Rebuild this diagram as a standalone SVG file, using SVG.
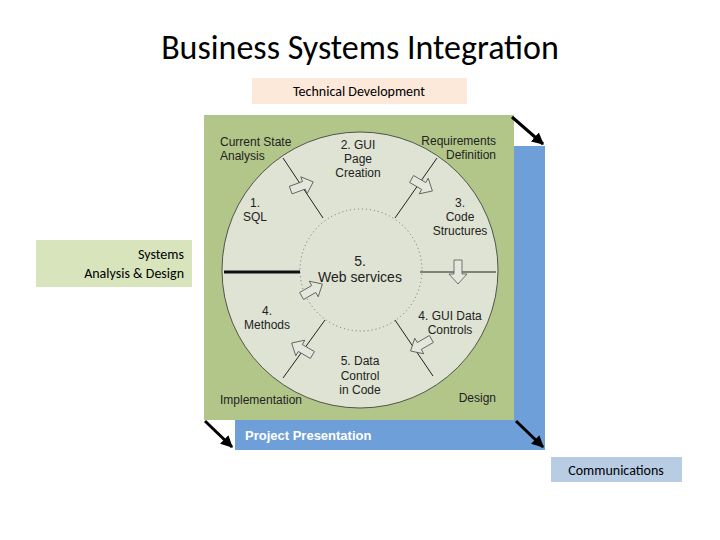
<svg xmlns="http://www.w3.org/2000/svg" width="720" height="540" viewBox="0 0 720 540">
<defs>
<style>
.t{font-family:"Liberation Sans",Arial,sans-serif;font-size:12px;fill:#222}
.c{font-family:Calibri,"Carlito","Liberation Sans",sans-serif;font-size:14px;fill:#000}
.sp{stroke:#222;stroke-width:1;fill:none}
.ba{fill:#e4e8dc;stroke:#555;stroke-width:0.8}
</style>
<marker id="ah" viewBox="0 0 10 10" refX="9" refY="5" markerWidth="4" markerHeight="4" orient="auto"><path d="M0,0 L10,5 L0,10 z" fill="#000"/></marker>
<polygon id="blk" points="-12,-4 2,-4 2,-9 12,0 2,9 2,4 -12,4" class="ba"/>
</defs>
<rect width="720" height="540" fill="#fff"/>
<text x="360" y="59" text-anchor="middle" style="font-family:Calibri,'Carlito','Liberation Sans',sans-serif;font-size:34px">Business Systems Integration</text>
<g id="techdev"><rect x="252" y="78" width="215" height="26" fill="#fde9d9"/><text class="c" x="359" y="96" text-anchor="middle">Technical Development</text></g>
<g id="sad"><rect x="36" y="240" width="156" height="47" fill="#d7e4bc"/><text class="c" x="184" y="259" text-anchor="end">Systems</text><text class="c" x="184" y="278" text-anchor="end">Analysis &amp; Design</text></g>
<g id="comm"><rect x="551" y="457" width="131" height="25" fill="#b8cce4"/><text class="c" x="616" y="475" text-anchor="middle">Communications</text></g>
<g id="cycle">
<rect x="514" y="146" width="31" height="304" fill="#6f9fd8"/>
<rect x="235" y="420" width="310" height="30" fill="#6f9fd8"/>
<rect x="204" y="115" width="310" height="305" fill="#b3c68a"/>
<circle cx="360" cy="270" r="138" fill="#dfe3d3" stroke="#333" stroke-width="0.8"/>
<circle cx="361" cy="270" r="61" fill="#dfe3d3" stroke="#555" stroke-width="0.8" stroke-dasharray="1,3"/>
<text x="245" y="440" style="font-family:'Liberation Sans',Arial,sans-serif;font-size:13px;font-weight:bold;fill:#fff">Project Presentation</text>
</g>
<g id="connectors">
<line x1="283" y1="158" x2="323" y2="218" class="sp"/>
<line x1="437" y1="158" x2="395" y2="218" class="sp"/>
<line x1="325" y1="320" x2="283" y2="378" class="sp"/>
<line x1="395" y1="320" x2="433" y2="376" class="sp"/>
<line x1="224" y1="272" x2="300" y2="272" stroke="#111" stroke-width="3"/>
<line x1="420" y1="272" x2="496" y2="272" class="sp"/>
<use href="#blk" transform="translate(302,186) rotate(-20)"/>
<use href="#blk" transform="translate(422,185) rotate(30)"/>
<use href="#blk" transform="translate(458,272) rotate(90)"/>
<use href="#blk" transform="translate(421,345) rotate(150)"/>
<use href="#blk" transform="translate(302,349) rotate(-150)"/>
<use href="#blk" transform="translate(312,290) rotate(-30)"/>
<line x1="512" y1="117" x2="543" y2="144" stroke="#000" stroke-width="3" marker-end="url(#ah)"/>
<line x1="205" y1="421" x2="232" y2="447" stroke="#000" stroke-width="3" marker-end="url(#ah)"/>
<line x1="516" y1="421" x2="543" y2="447" stroke="#000" stroke-width="3" marker-end="url(#ah)"/>
</g>
<g id="labels">
<text class="t" x="220" y="146">Current State</text><text class="t" x="220" y="160">Analysis</text>
<text class="t" x="358" y="149" text-anchor="middle">2. GUI</text><text class="t" x="358" y="163" text-anchor="middle">Page</text><text class="t" x="358" y="177" text-anchor="middle">Creation</text>
<text class="t" x="496" y="145" text-anchor="end">Requirements</text><text class="t" x="496" y="159" text-anchor="end">Definition</text>
<text class="t" x="250" y="207">1.</text><text class="t" x="243" y="221">SQL</text>
<text class="t" x="460" y="207" text-anchor="middle">3.</text><text class="t" x="460" y="221" text-anchor="middle">Code</text><text class="t" x="460" y="235" text-anchor="middle">Structures</text>
<text class="t" x="360" y="266" text-anchor="middle" style="font-size:14px">5.</text><text class="t" x="360" y="282" text-anchor="middle" style="font-size:14px">Web services</text>
<text class="t" x="262" y="315">4.</text><text class="t" x="244" y="329">Methods</text>
<text class="t" x="450" y="320" text-anchor="middle">4. GUI Data</text><text class="t" x="450" y="334" text-anchor="middle">Controls</text>
<text class="t" x="360" y="365" text-anchor="middle">5. Data</text><text class="t" x="360" y="380" text-anchor="middle">Control</text><text class="t" x="360" y="394" text-anchor="middle">in Code</text>
<text class="t" x="220" y="404">Implementation</text>
<text class="t" x="496" y="402" text-anchor="end">Design</text>
</g>
</svg>
